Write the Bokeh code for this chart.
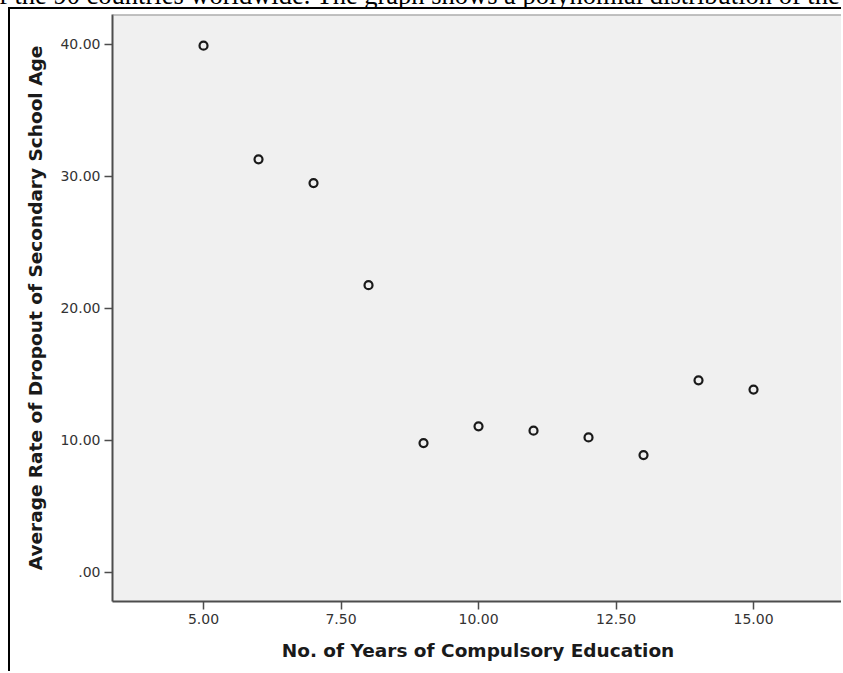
from bokeh.plotting import figure
from bokeh.models import Range1d, FixedTicker, Span, Div
from bokeh.layouts import column
from bokeh.embed import file_html
from bokeh.resources import INLINE

# data
years = [5, 6, 7, 8, 9, 10, 11, 12, 13, 14, 15]
dropout = [39.88, 31.27, 29.47, 21.74, 9.78, 11.05, 10.72, 10.21, 8.87, 14.53, 13.83]

x_ticks = [5, 7.5, 10, 12.5, 15]
x_tick_labels = ["5.00", "7.50", "10.00", "12.50", "15.00"]
y_ticks = [0, 10, 20, 30, 40]
y_tick_labels = [".00", "10.00", "20.00", "30.00", "40.00"]

x_title = "No. of Years of Compulsory Education"
y_title = "Average Rate of Dropout of Secondary School Age"
top_text = "f the 90 countries worldwide. The graph shows a polynomial distribution of the"

div = Div(text=('<div style="position:relative; left:-1px; top:-18px; '
                'font-family:\'Liberation Serif\'; font-size:26.5px; line-height:26px; '
                'white-space:nowrap; color:black;">' + top_text + '</div>'),
          width=843, height=7, margin=0, styles={"overflow": "hidden"})

p = figure(width=833, height=664, output_backend="svg", toolbar_location=None,
           x_range=Range1d(3.345, 16.636), y_range=Range1d(-2.22, 42.24),
           min_border_left=102, min_border_right=0, min_border_top=5,
           min_border_bottom=72)
p.margin = (0, 0, 0, 8)
p.styles = {"border-left": "2px solid black", "border-top": "2px solid black"}

p.background_fill_color = "#f0f0f0"
p.border_fill_color = "white"
p.outline_line_color = None
p.grid.visible = False

p.add_layout(Span(location=42.24, dimension="width", line_color="#8c8c8c", line_width=2))

for ax, ticks, labels in ((p.xaxis[0], x_ticks, x_tick_labels), (p.yaxis[0], y_ticks, y_tick_labels)):
    ax.ticker = FixedTicker(ticks=ticks)
    ax.major_label_overrides = {t: l for t, l in zip(ticks, labels)}
    ax.minor_tick_line_color = None
    ax.major_tick_in = 0
    ax.major_tick_out = 8
    ax.major_tick_line_color = "#4d4d4d"
    ax.major_tick_line_width = 1.5
    ax.axis_line_color = "#4d4d4d"
    ax.axis_line_width = 2
    ax.major_label_text_font = "DejaVu Sans"
    ax.major_label_text_font_size = "14px"
    ax.major_label_text_color = "#333333"
    ax.major_label_standoff = 4
    ax.axis_label_text_font = "DejaVu Sans"
    ax.axis_label_text_font_style = "bold"
    ax.axis_label_text_font_size = "18.5px"
    ax.axis_label_text_color = "#1a1a1a"

p.xaxis.axis_label = x_title
p.yaxis.axis_label = y_title
p.xaxis.axis_label_standoff = 13
p.yaxis.axis_label_standoff = 11

p.scatter(years, dropout, marker="circle", size=8, fill_color=None,
          line_color="#1a1a1a", line_width=2.2)

layout = column(div, p)
open("out.html", "w").write(file_html(layout, INLINE))
